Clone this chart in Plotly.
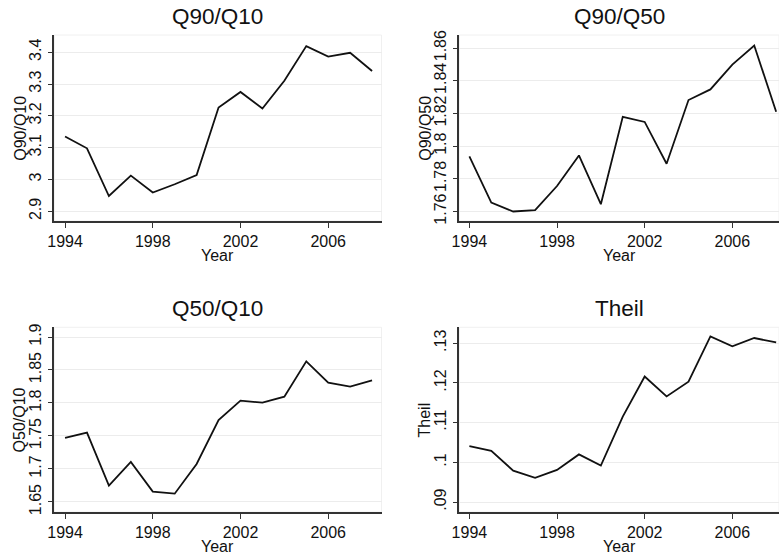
import plotly.graph_objects as go

years = list(range(1994, 2009))
q90_q10 = [3.135, 3.098, 2.948, 3.012, 2.959, 2.985, 3.014, 3.226, 3.275, 3.223, 3.310, 3.419, 3.386, 3.398, 3.341]
q90_q50 = [1.7937, 1.7655, 1.7600, 1.7608, 1.7756, 1.7943, 1.7645, 1.8179, 1.8148, 1.7892, 1.8282, 1.8347, 1.8499, 1.8616, 1.8210]
q50_q10 = [1.747, 1.755, 1.6747, 1.7106, 1.6657, 1.6626, 1.7076, 1.7742, 1.8035, 1.8005, 1.8096, 1.8631, 1.8308, 1.8247, 1.8343]
theil = [0.1041, 0.1029, 0.0979, 0.0961, 0.0981, 0.1020, 0.0992, 0.1115, 0.1216, 0.1166, 0.1203, 0.1317, 0.1292, 0.1313, 0.1302]

titles = ["Q90/Q10", "Q90/Q50", "Q50/Q10", "Theil"]
x_ticks = [1994, 1998, 2002, 2006]
x_tick_text = ["1994", "1998", "2002", "2006"]
y_ticks = [
    [2.9, 3.0, 3.1, 3.2, 3.3, 3.4],
    [1.76, 1.78, 1.80, 1.82, 1.84, 1.86],
    [1.65, 1.70, 1.75, 1.80, 1.85, 1.90],
    [0.09, 0.10, 0.11, 0.12, 0.13],
]
y_tick_text = [
    ["2.9", "3", "3.1", "3.2", "3.3", "3.4"],
    ["1.76", "1.78", "1.8", "1.82", "1.84", "1.86"],
    ["1.65", "1.7", "1.75", "1.8", "1.85", "1.9"],
    [".09", ".1", ".11", ".12", ".13"],
]
series = [q90_q10, q90_q50, q50_q10, theil]

W, H = 779, 556
FONT = "Liberation Sans, Arial, Helvetica, sans-serif"

# plot areas in pixels: (left, right, top, bottom)
areas = [
    (54.3, 381.5, 35, 221),
    (459.3, 779, 35, 221),
    (54.3, 381.5, 327.3, 512),
    (459.3, 779, 327.3, 512),
]
x_ranges = [
    [1993.51, 2008.43],
    [1993.54, 2008.13],
    [1993.51, 2008.43],
    [1993.54, 2008.13],
]
y_ranges = [
    [2.8695, 3.454],
    [1.7542, 1.868],
    [1.6348, 1.9147],
    [0.0875, 0.134],
]

fig = go.Figure()
annotations = []
shapes = []
for i in range(4):
    l, r, t, b = areas[i]
    ax = "" if i == 0 else str(i + 1)
    fig.add_trace(go.Scatter(
        x=years, y=series[i], mode="lines",
        line=dict(color="#111111", width=1.8),
        xaxis="x" + ax, yaxis="y" + ax, showlegend=False, hoverinfo="x+y",
    ))
    fig.layout["xaxis" + ax] = dict(
        domain=[l / W, min(r / W, 1.0)], range=x_ranges[i], anchor="y" + ax,
        tickvals=x_ticks, ticktext=x_tick_text, ticks="outside", ticklen=5,
        tickwidth=1.3, tickcolor="#333", showline=True, linecolor="#333", linewidth=1.5,
        showgrid=False, zeroline=False, tickfont=dict(size=16, color="#111", family=FONT),
        automargin=False, fixedrange=True,
    )
    fig.layout["yaxis" + ax] = dict(
        domain=[1 - b / H, 1 - t / H], range=y_ranges[i], anchor="x" + ax,
        tickvals=y_ticks[i], ticktext=y_tick_text[i], ticks="outside", ticklen=5,
        tickwidth=1.3, tickcolor="#333", showline=True, linecolor="#333", linewidth=1.5,
        showgrid=True, gridcolor="#ececec", gridwidth=1.2, zeroline=False,
        tickangle=-90, tickfont=dict(size=16, color="#111", family=FONT),
        automargin=False, fixedrange=True,
    )
    # faint plot region frame
    shapes.append(dict(type="rect", xref="x" + ax + " domain", yref="y" + ax + " domain",
                       x0=0, x1=1, y0=0, y1=1, line=dict(color="#f0f0f0", width=1), layer="below"))
    cx = (l + min(r, 779)) / 2
    # title
    annotations.append(dict(text=titles[i], x=cx / W, y=1 - (t - 19) / H, xref="paper", yref="paper",
                            showarrow=False, font=dict(size=22.5, color="#111", family=FONT),
                            xanchor="center", yanchor="middle"))
    # x axis title
    annotations.append(dict(text="Year", x=cx / W, y=1 - (b + 34) / H, xref="paper", yref="paper",
                            showarrow=False, font=dict(size=16, color="#111", family=FONT),
                            xanchor="center", yanchor="middle"))
    # y axis title
    annotations.append(dict(text=titles[i], x=(l - 34.5) / W, y=1 - (t + b) / 2 / H, xref="paper", yref="paper",
                            showarrow=False, textangle=-90, font=dict(size=16, color="#111", family=FONT),
                            xanchor="center", yanchor="middle"))

fig.update_layout(
    width=W, height=H, margin=dict(l=0, r=0, t=0, b=0),
    paper_bgcolor="white", plot_bgcolor="white",
    annotations=annotations, shapes=shapes, showlegend=False,
)
fig.write_html("out.html")
